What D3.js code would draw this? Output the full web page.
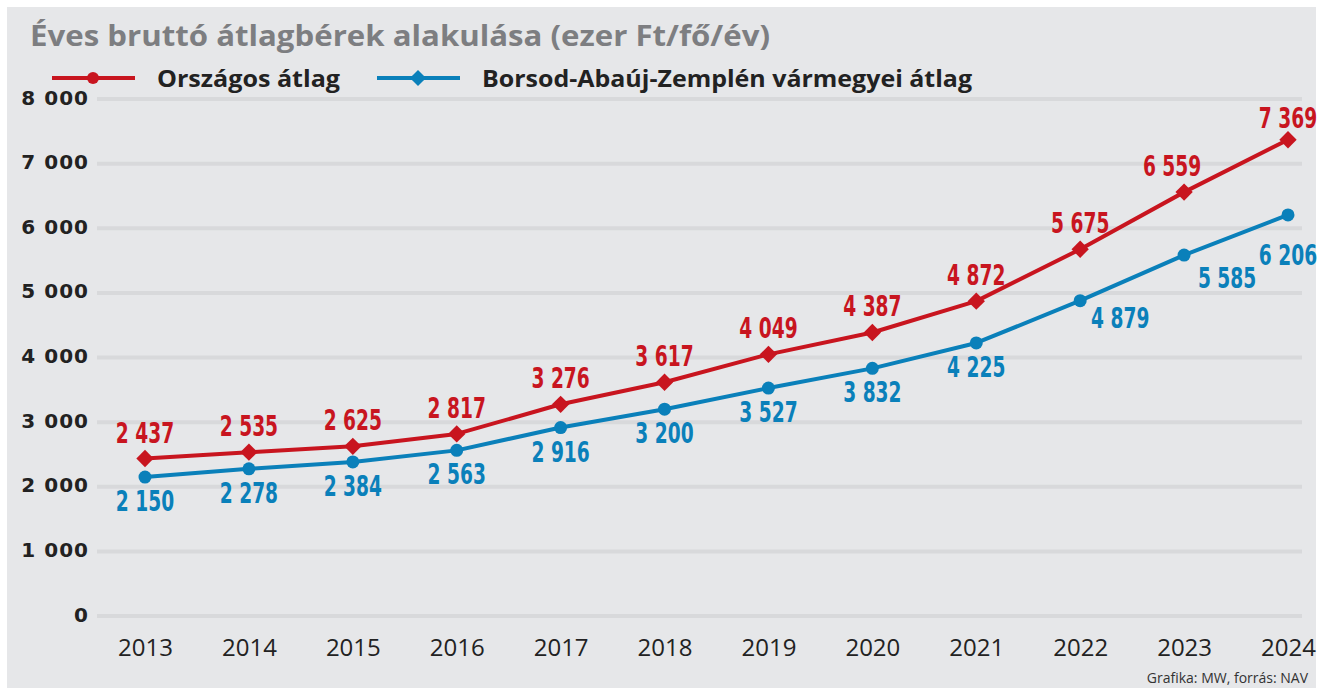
<!DOCTYPE html>
<html>
<head>
<meta charset="utf-8">
<script src="https://d3js.org/d3.v7.min.js"></script>
<style>
  body { margin: 0; background: #fff; }
  svg { display: block; }
</style>
</head>
<body>
<svg width="1321" height="688"></svg>
<script>
const years = [2013, 2014, 2015, 2016, 2017, 2018, 2019, 2020, 2021, 2022, 2023, 2024];
const orszagos = [2437, 2535, 2625, 2817, 3276, 3617, 4049, 4387, 4872, 5675, 6559, 7369];
const borsod = [2150, 2278, 2384, 2563, 2916, 3200, 3527, 3832, 4225, 4879, 5585, 6206];
const yTicks = [0, 1000, 2000, 3000, 4000, 5000, 6000, 7000, 8000];

const RED = "#c8151f", BLUE = "#0a80ba";
const svg = d3.select("svg");
const fmt = v => d3.format(",")(v).replace(/,/g, " ");

svg.append("rect").attr("x", 7).attr("y", 7).attr("width", 1309).attr("height", 681)
    .attr("fill", "#e6e7e9");

var x = d3.scaleLinear().domain([2013, 2024]).range([145, 1288]);
var y = d3.scaleLinear().domain([0, 8000]).range([616, 99]);

// grid
svg.append("g").selectAll("line").data(yTicks).enter().append("line")
    .attr("x1", 97).attr("x2", 1302)
    .attr("y1", d => y(d)).attr("y2", d => y(d))
    .attr("stroke", "#d8d9db").attr("stroke-width", 4);

// y axis
var ya = svg.append("g").attr("transform", "translate(89,0)")
    .call(d3.axisLeft(y).tickValues(yTicks).tickSize(0).tickPadding(0).tickFormat(fmt));
ya.select(".domain").remove();
ya.selectAll("text")
    .attr("font-family", "DejaVu Sans").attr("font-weight", "bold")
    .attr("font-size", 20).attr("letter-spacing", 1).attr("fill", "#222")
    .attr("dy", "0.25em");

// x axis
var xa = svg.append("g").attr("transform", "translate(0,633)")
    .call(d3.axisBottom(x).tickValues(years).tickSize(0).tickPadding(0).tickFormat(d3.format("d")));
xa.select(".domain").remove();
xa.selectAll("text")
    .attr("font-family", "Open Sans").attr("font-size", 24).attr("fill", "#222")
    .attr("dy", "0.95em");

// lines
function drawSeries(vals, color) {
    var line = d3.line().x((d, i) => x(years[i])).y(d => y(d));
    svg.append("path").datum(vals).attr("d", line)
        .attr("fill", "none").attr("stroke", color).attr("stroke-width", 4)
        .attr("stroke-linejoin", "round");
}
drawSeries(orszagos, RED);
drawSeries(borsod, BLUE);

const diamond = d3.symbol().type(d3.symbolSquare).size(150);
svg.append("g").selectAll("path").data(orszagos).enter().append("path")
    .attr("d", diamond)
    .attr("transform", (d, i) => "translate(" + x(years[i]) + "," + y(d) + ") rotate(45)")
    .attr("fill", RED);
svg.append("g").selectAll("circle").data(borsod).enter().append("circle")
    .attr("cx", (d, i) => x(years[i])).attr("cy", d => y(d)).attr("r", 6.5)
    .attr("fill", BLUE);

// value labels (condensed bold)
const labelFont = "'DejaVu Sans Condensed', 'DejaVu Sans', sans-serif";
function label(g, vals, color, off) {
    g.selectAll("text").data(vals).enter().append("text")
        .attr("transform", (d, i) => "translate(" + (x(years[i]) + off(i)[0]) + "," +
            (y(d) + off(i)[1]) + ") scale(0.74,1)")
        .attr("text-anchor", "middle")
        .attr("font-family", labelFont).attr("font-weight", "bold").attr("font-size", 28)
        .attr("fill", color).text(fmt);
}
label(svg.append("g"), orszagos, RED, i => [i == 10 ? -12 : 0, i == 11 ? -12 : -16]);
label(svg.append("g"), borsod, BLUE, i => {
    if (i == 9) return [40, 27];
    if (i == 10) return [43, 33];
    if (i == 11) return [0, 50];
    return [0, 34];
});

// title
svg.append("text").attr("x", 30).attr("y", 46)
    .attr("font-family", "Open Sans").attr("font-weight", "bold").attr("font-size", 29)
    .attr("fill", "#7d7e81")
    .attr("textLength", 740).attr("lengthAdjust", "spacingAndGlyphs")
    .text("Éves bruttó átlagbérek alakulása (ezer Ft/fő/év)");

// legend
var lg = svg.append("g");
lg.append("line").attr("x1", 52).attr("x2", 135).attr("y1", 78).attr("y2", 78)
    .attr("stroke", RED).attr("stroke-width", 4);
lg.append("circle").attr("cx", 93).attr("cy", 78).attr("r", 6).attr("fill", RED);
lg.append("text").attr("x", 157).attr("y", 87)
    .attr("font-family", "Open Sans").attr("font-weight", "bold").attr("font-size", 24)
    .attr("fill", "#222").attr("textLength", 183).attr("lengthAdjust", "spacingAndGlyphs")
    .text("Országos átlag");
lg.append("line").attr("x1", 377).attr("x2", 460).attr("y1", 78).attr("y2", 78)
    .attr("stroke", BLUE).attr("stroke-width", 4);
lg.append("path").attr("d", d3.symbol().type(d3.symbolSquare).size(130))
    .attr("transform", "translate(418,78) rotate(45)").attr("fill", BLUE);
lg.append("text").attr("x", 482).attr("y", 87)
    .attr("font-family", "Open Sans").attr("font-weight", "bold").attr("font-size", 24)
    .attr("fill", "#222").attr("textLength", 490).attr("lengthAdjust", "spacingAndGlyphs")
    .text("Borsod-Abaúj-Zemplén vármegyei átlag");

// source
svg.append("text").attr("x", 1308).attr("y", 683).attr("text-anchor", "end")
    .attr("font-family", "Open Sans").attr("font-size", 14).attr("fill", "#333")
    .text("Grafika: MW, forrás: NAV");
</script>
</body>
</html>
